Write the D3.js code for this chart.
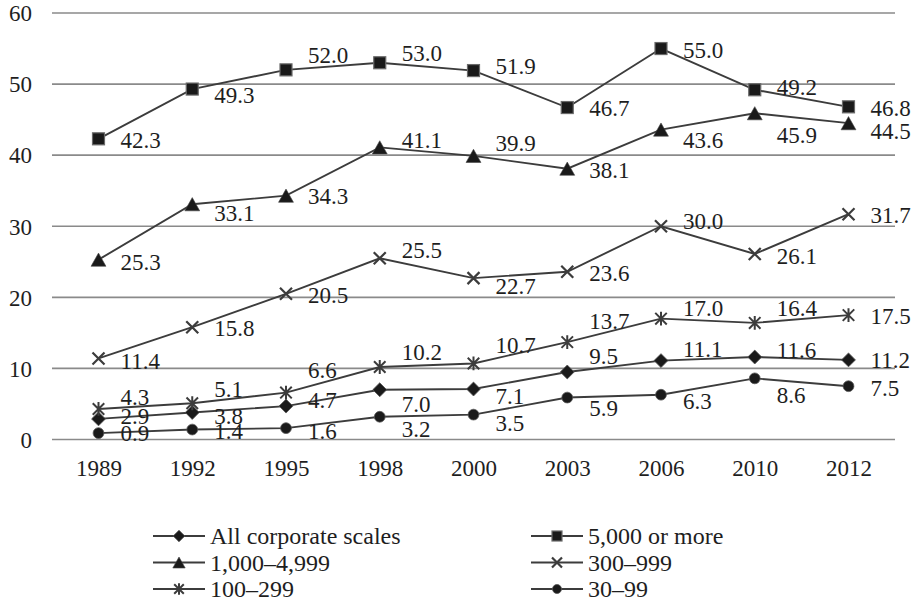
<!DOCTYPE html>
<html>
<head>
<meta charset="utf-8">
<script src="https://cdn.jsdelivr.net/npm/d3@7/dist/d3.min.js"></script>
<style>
  html, body { margin: 0; padding: 0; background: #fff; }
  svg { display: block; }
</style>
</head>
<body>
<svg id="chart" width="918" height="604"></svg>
<script>
// ---- data ----
const years = ["1989", "1992", "1995", "1998", "2000", "2003", "2006", "2010", "2012"];
const yTicks = [0, 10, 20, 30, 40, 50, 60];

const allCorporate = [2.9, 3.8, 4.7, 7.0, 7.1, 9.5, 11.1, 11.6, 11.2];
const over5000     = [42.3, 49.3, 52.0, 53.0, 51.9, 46.7, 55.0, 49.2, 46.8];
const s1000_4999   = [25.3, 33.1, 34.3, 41.1, 39.9, 38.1, 43.6, 45.9, 44.5];
const s300_999     = [11.4, 15.8, 20.5, 25.5, 22.7, 23.6, 30.0, 26.1, 31.7];
const s100_299     = [4.3, 5.1, 6.6, 10.2, 10.7, 13.7, 17.0, 16.4, 17.5];
const s30_99       = [0.9, 1.4, 1.6, 3.2, 3.5, 5.9, 6.3, 8.6, 7.5];

const seriesNames = ["All corporate scales", "5,000 or more", "1,000\u20134,999", "300\u2013999", "100\u2013299", "30\u201399"];
const seriesValues = [allCorporate, over5000, s1000_4999, s300_999, s100_299, s30_99];
const seriesMarkers = ["diamond", "square", "triangle", "x", "asterisk", "circle"];

// ---- layout: vertical nudges of the value labels (px) ----
const labelNudge = [
  [-3, 3.5, -6, 15, 7.7, -15.3, -11.3, -7, 0],
  [1, 6.6, -15, -9.5, -4.6, 0.7, 1.4, -2.5, 1.5],
  [2.6, 9, 1, -6.7, -13, 1.3, 10.4, 22, 8.5],
  [3, 1, 2, -8, 8.5, 1.5, -4.6, 2.7, 1],
  [-12, -14, -22, -14.3, -18.4, -20.4, -10.4, -14.6, 1.6],
  [0, 2, 3.5, 13, 9, 10.7, 7, 16.6, 2]
];

const FONT = "'Liberation Serif', 'Times New Roman', serif";
const svg = d3.select("#chart");
const x = d3.scalePoint().domain(years).range([98.5, 848.5]);
const y = d3.scaleLinear().domain([0, 60]).range([439.5, 13]);
const gridLeft = 52, gridRight = 895;
const lineColor = "#3c3c3c";
const textColor = "#1e1e1e";
const fontSize = 23;
const legendFontSize = 24;

function styleText(sel, size) {
  sel.style("font-family", FONT).style("font-size", (size || fontSize) + "px").style("fill", textColor);
}

// gridlines
svg.append("g").selectAll("line").data(yTicks).join("line")
  .attr("x1", gridLeft).attr("x2", gridRight)
  .attr("y1", d => y(d)).attr("y2", d => y(d))
  .attr("stroke", "#8a8a8a").attr("stroke-width", 1.6);

// y axis labels
const yAxis = d3.axisLeft(y).tickValues(yTicks).tickSize(0).tickPadding(0).tickFormat(d3.format("d"));
const yg = svg.append("g").attr("transform", "translate(32,0)").call(yAxis);
yg.select(".domain").remove();
yg.selectAll("text").call(styleText).attr("dy", "0.34em");

// x axis labels
const xAxis = d3.axisBottom(x).tickSize(0).tickPadding(0);
const xg = svg.append("g").attr("transform", "translate(0,461)").call(xAxis);
xg.select(".domain").remove();
xg.selectAll("text").call(styleText).attr("dy", "0.66em");

// marker drawing
function drawMarker(g, type, s) {
  if (type === "diamond") {
    const r = s * 0.58;
    g.append("path").attr("d", `M0,${-r}L${r},0L0,${r}L${-r},0Z`).attr("fill", "#1a1a1a").attr("stroke", "#555").attr("stroke-width", 0.8);
  } else if (type === "square") {
    const h = s * 0.5;
    g.append("rect").attr("x", -h).attr("y", -h).attr("width", 2 * h).attr("height", 2 * h)
      .attr("fill", "#1a1a1a").attr("stroke", "#6a6a6a").attr("stroke-width", 1.2);
  } else if (type === "triangle") {
    const w = s * 0.62, hh = s * 0.55;
    g.append("path").attr("d", `M0,${-hh}L${w},${hh}L${-w},${hh}Z`).attr("fill", "#1a1a1a").attr("stroke", "#444").attr("stroke-width", 0.6);
  } else if (type === "x") {
    const r = s * 0.5;
    g.append("path").attr("d", `M${-r},${-r}L${r},${r}M${-r},${r}L${r},${-r}`).attr("stroke", lineColor).attr("stroke-width", 2.2).attr("fill", "none");
  } else if (type === "asterisk") {
    const r = s * 0.48;
    g.append("path").attr("d", `M${-r},${-r}L${r},${r}M${-r},${r}L${r},${-r}M0,${-r * 1.2}L0,${r * 1.2}`).attr("stroke", lineColor).attr("stroke-width", 2).attr("fill", "none");
  } else if (type === "circle") {
    g.append("circle").attr("r", s * 0.45).attr("fill", "#1a1a1a").attr("stroke", "#555").attr("stroke-width", 0.8);
  }
}

const line = d3.line().x((d, i) => x(years[i])).y(d => y(d));

// lines
seriesValues.forEach((vals) => {
  svg.append("path").datum(vals).attr("d", line)
    .attr("fill", "none").attr("stroke", lineColor).attr("stroke-width", 1.9);
});

// markers
seriesValues.forEach((vals, si) => {
  const g = svg.append("g");
  vals.forEach((v, i) => {
    const mg = g.append("g").attr("transform", `translate(${x(years[i])},${y(v)})`);
    drawMarker(mg, seriesMarkers[si], 12);
  });
});

// value labels
seriesValues.forEach((vals, si) => {
  svg.append("g").selectAll("text").data(vals).join("text")
    .attr("x", (d, i) => x(years[i]) + 22)
    .attr("y", (d, i) => y(d) + labelNudge[si][i] + 7.7)
    .call(styleText)
    .text(d => d3.format(".1f")(d));
});

// legend
const legendCols = [153, 531];
const legendRows = [536, 562.5, 589];
seriesNames.forEach((name, si) => {
  const col = si % 2, row = Math.floor(si / 2);
  const lx = legendCols[col], ly = legendRows[row];
  const g = svg.append("g").attr("transform", `translate(${lx},${ly})`);
  g.append("line").attr("x1", 0).attr("x2", 52).attr("y1", 0).attr("y2", 0)
    .attr("stroke", lineColor).attr("stroke-width", 1.9);
  const mg = g.append("g").attr("transform", "translate(26,0)");
  drawMarker(mg, seriesMarkers[si], 10);
  g.append("text").attr("x", 57).attr("y", 8).call(styleText, legendFontSize).text(name);
});
</script>
</body>
</html>
